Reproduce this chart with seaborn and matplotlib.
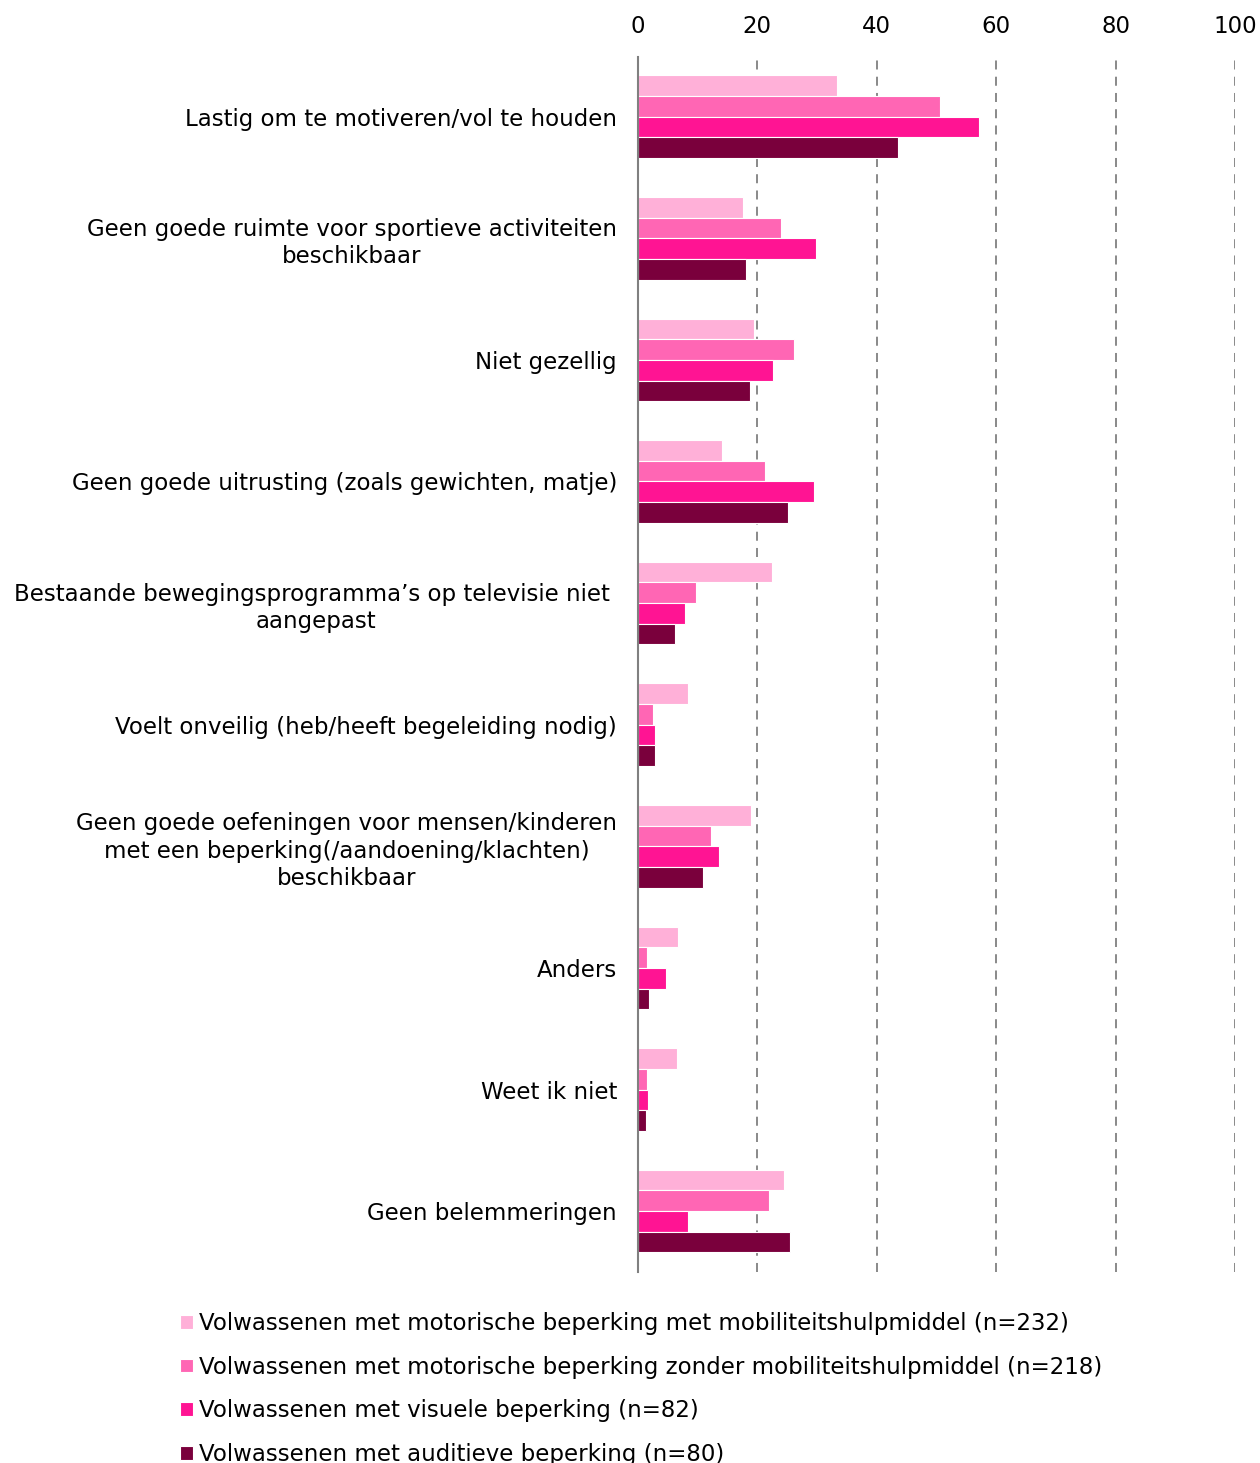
import matplotlib
matplotlib.use("Agg")
import matplotlib.pyplot as plt
import seaborn as sns
import pandas as pd

categories = [
    "Lastig om te motiveren/vol te houden",
    "Geen goede ruimte voor sportieve activiteiten\nbeschikbaar",
    "Niet gezellig",
    "Geen goede uitrusting (zoals gewichten, matje)",
    "Bestaande bewegingsprogramma’s op televisie niet \naangepast",
    "Voelt onveilig (heb/heeft begeleiding nodig)",
    "Geen goede oefeningen voor mensen/kinderen\nmet een beperking(/aandoening/klachten)\nbeschikbaar",
    "Anders",
    "Weet ik niet",
    "Geen belemmeringen",
]

series_names = [
    "Volwassenen met motorische beperking met mobiliteitshulpmiddel (n=232)",
    "Volwassenen met motorische beperking zonder mobiliteitshulpmiddel (n=218)",
    "Volwassenen met visuele beperking (n=82)",
    "Volwassenen met auditieve beperking (n=80)",
]

motor_met = [33.3, 17.6, 19.4, 14.1, 22.4, 8.4, 18.9, 6.7, 6.5, 24.5]
motor_zonder = [50.6, 24.0, 26.1, 21.3, 9.7, 2.5, 12.2, 1.5, 1.5, 21.9]
visueel = [57.1, 29.8, 22.6, 29.5, 7.9, 2.8, 13.6, 4.7, 1.7, 8.4]
auditief = [43.6, 18.1, 18.8, 25.1, 6.2, 2.8, 10.9, 1.8, 1.3, 25.5]

colors = ["#FFB0D8", "#FF66B4", "#FF1493", "#7A003C"]

rows = []
for name, vals in zip(series_names, [motor_met, motor_zonder, visueel, auditief]):
    for cat, v in zip(categories, vals):
        rows.append({"categorie": cat, "groep": name, "percentage": v})
df = pd.DataFrame(rows)

sns.set_style("white")
plt.rcParams["font.family"] = ["DejaVu Sans"]
plt.rcParams["text.color"] = "black"
plt.rcParams["xtick.color"] = "black"
plt.rcParams["ytick.color"] = "black"

FS = 16.5

fig = plt.figure(figsize=(12.6, 14.63), dpi=100)
ax = fig.add_axes([0.5063, 0.1306, 0.4739, 0.8304])

sns.barplot(
    data=df, y="categorie", x="percentage", hue="groep",
    order=categories, hue_order=series_names, palette=colors,
    orient="h", width=0.68, edgecolor="white", linewidth=0.8,
    saturation=1, ax=ax, legend=True,
)

ax.set_xlim(0, 100)
ax.set_ylim(9.5, -0.49)
ax.set_xticks([0, 20, 40, 60, 80, 100])
ax.xaxis.tick_top()
ax.tick_params(axis="x", length=0, pad=14, labelsize=FS, labelcolor="black")
ax.tick_params(axis="y", length=0, pad=15, labelsize=FS, labelcolor="black")
for lbl in ax.get_yticklabels():
    lbl.set_multialignment("center")
    lbl.set_linespacing(1.25)
ax.set_xlabel("")
ax.set_ylabel("")

for x in [20, 40, 60, 80, 100]:
    ax.axvline(x, color="#808080", linestyle=(0, (5, 4)), linewidth=1.3, zorder=0)

for side in ["top", "right", "bottom"]:
    ax.spines[side].set_visible(False)
ax.spines["left"].set_color("#808080")
ax.spines["left"].set_linewidth(1.5)

handles, labels = ax.get_legend_handles_labels()
ax.get_legend().remove()
fig.legend(
    handles, labels, loc="upper left", bbox_to_anchor=(0.1355, 0.1095),
    frameon=False, fontsize=FS, handlelength=0.55, handleheight=0.55,
    handletextpad=0.3, labelspacing=0.9, borderaxespad=0,
)

fig.savefig("out.png", dpi=100)
